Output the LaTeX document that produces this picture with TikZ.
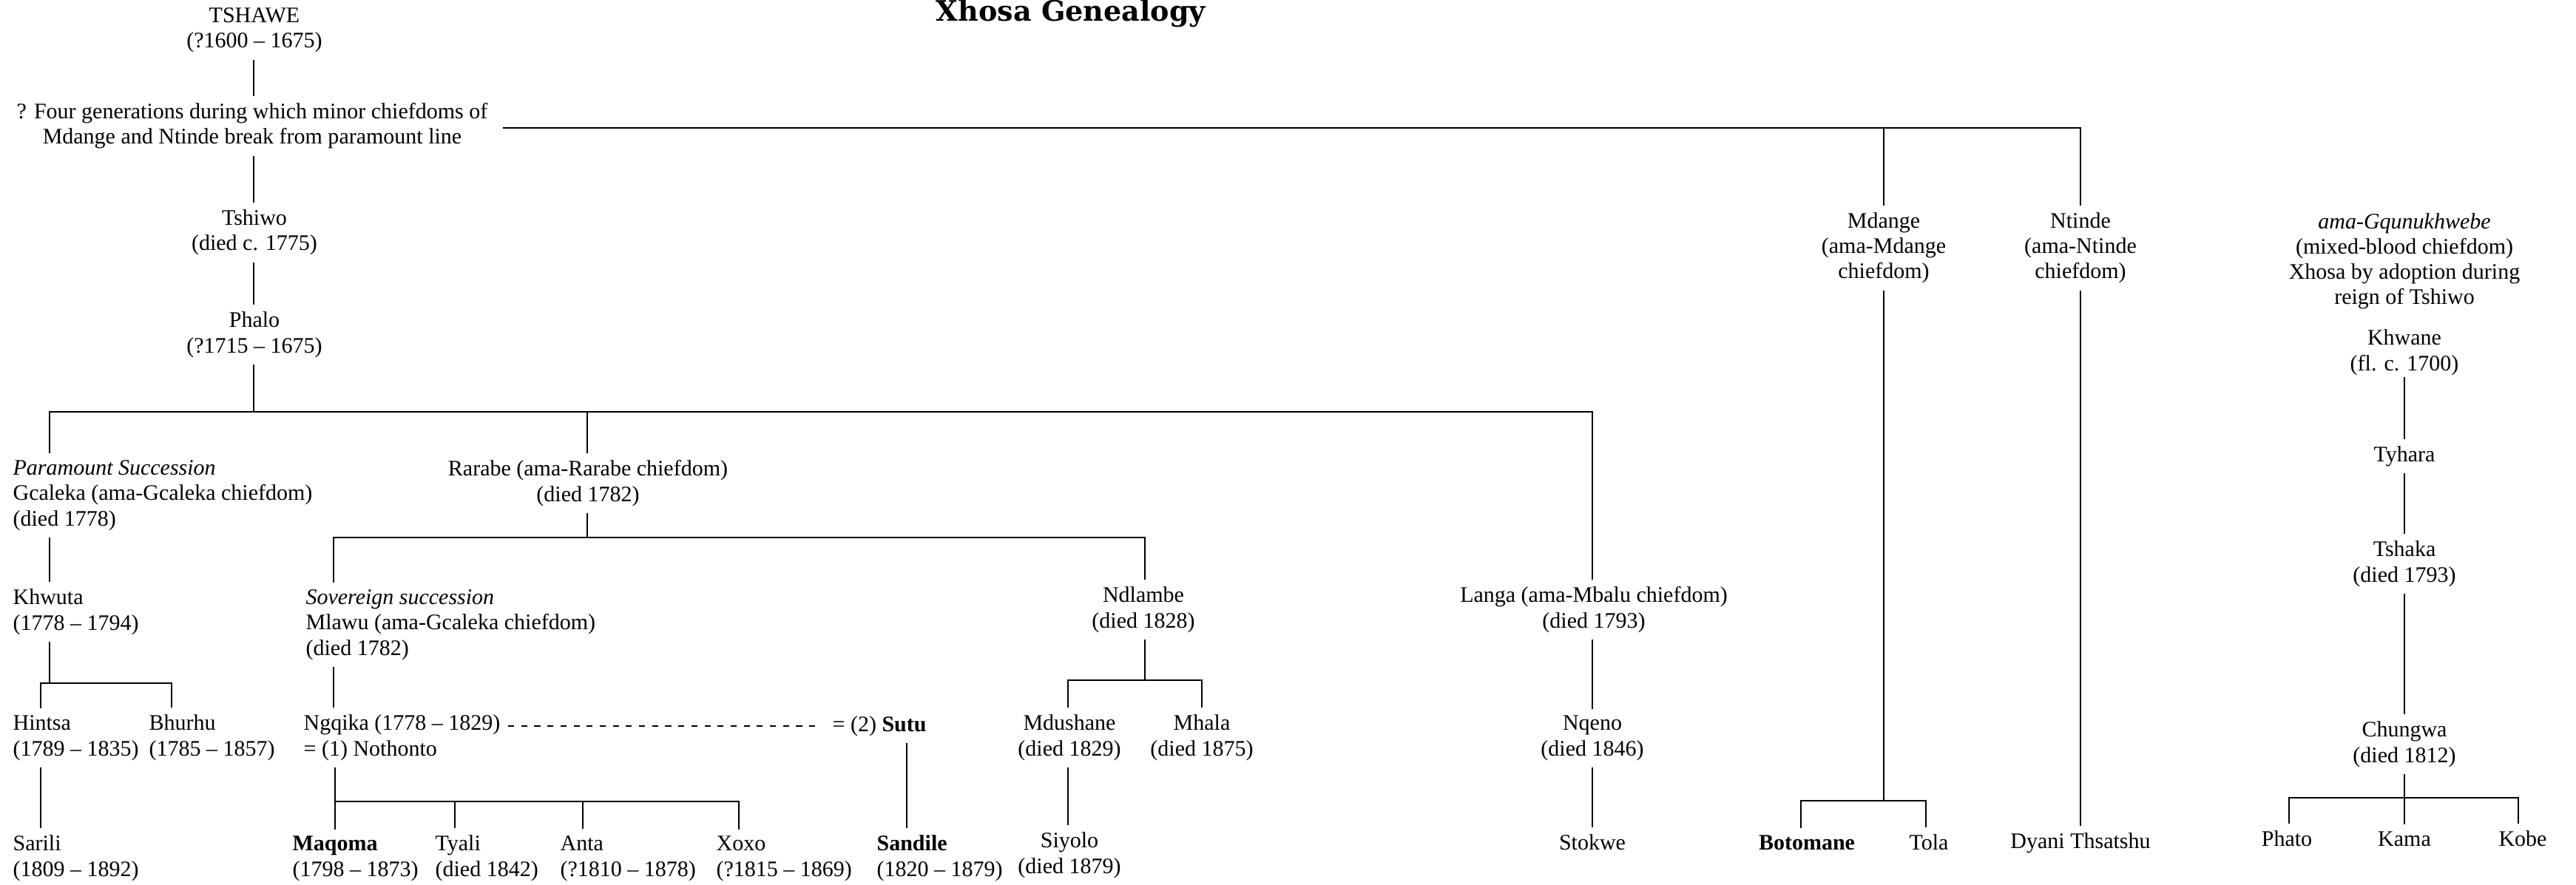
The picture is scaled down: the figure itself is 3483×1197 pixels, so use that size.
\documentclass[tikz,border=0pt]{standalone}
\usepackage{fontspec}
\setmainfont{Liberation Serif}
\newfontfamily\titlefont{DejaVu Serif}
\begin{document}
\begin{tikzpicture}[x=0.33333pt,y=-0.33333pt,
  every node/.style={font=\fontsize{10}{11.4}\selectfont, inner xsep=0pt, inner ysep=3pt},
  c/.style={anchor=base, align=center},
  l/.style={anchor=base west, align=left},
  ln/.style={line width=0.7pt},
  dsh/.style={line width=0.7pt, dash pattern=on 2.7pt off 3.2pt}]
\fill[white] (0,0) rectangle (3483,1197);
\useasboundingbox (0,0) rectangle (3483,1197);

% title
\node[anchor=base, font=\titlefont\bfseries\fontsize{12.7}{14}\selectfont] (title) at (1448,29) {Xhosa Genealogy};

% main line (node positions give the baseline of the last line)
\node[c] (tshawe) at (344,65) {TSHAWE\\(?1600 -- 1675)};
\node[c] (fourgen) at (341,195) {? Four generations during which minor chiefdoms of\\Mdange and Ntinde break from paramount line};
\node[c] (tshiwo) at (344,339) {Tshiwo\\(died c. 1775)};
\node[c] (phalo) at (344,477) {Phalo\\(?1715 -- 1675)};

% Phalo's sons
\node[l] (gcaleka) at (17,711) {\textit{Paramount Succession}\\Gcaleka (ama-Gcaleka chiefdom)\\(died 1778)};
\node[c] (rarabe) at (795,678) {Rarabe (ama-Rarabe chiefdom)\\(died 1782)};
\node[c] (langa) at (2155,849) {Langa (ama-Mbalu chiefdom)\\(died 1793)};

\node[l] (khwuta) at (17,852) {Khwuta\\(1778 -- 1794)};
\node[l] (mlawu) at (413,886) {\textit{Sovereign succession}\\Mlawu (ama-Gcaleka chiefdom)\\(died 1782)};
\node[c] (ndlambe) at (1546,849) {Ndlambe\\(died 1828)};

\node[l] (hintsa) at (17,1022) {Hintsa\\(1789 -- 1835)};
\node[l] (bhurhu) at (201,1022) {Bhurhu\\(1785 -- 1857)};
\node[l] (ngqika) at (410,1022) {Ngqika (1778 -- 1829)\\= (1) Nothonto};
\node[l] (sutu) at (1125,989) {= (2) \textbf{Sutu}};
\node[c] (mdushane) at (1446,1022) {Mdushane\\(died 1829)};
\node[c] (mhala) at (1625,1022) {Mhala\\(died 1875)};
\node[c] (nqeno) at (2153,1022) {Nqeno\\(died 1846)};

\node[l] (sarili) at (17,1185) {Sarili\\(1809 -- 1892)};
\node[l] (maqoma) at (395,1185) {\textbf{Maqoma}\\(1798 -- 1873)};
\node[l] (tyali) at (588,1185) {Tyali\\(died 1842)};
\node[l] (anta) at (757,1185) {Anta\\(?1810 -- 1878)};
\node[l] (xoxo) at (968,1185) {Xoxo\\(?1815 -- 1869)};
\node[l] (sandile) at (1185,1185) {\textbf{Sandile}\\(1820 -- 1879)};
\node[c] (siyolo) at (1446,1181) {Siyolo\\(died 1879)};
\node[c] (stokwe) at (2153,1149) {Stokwe};

% minor chiefdoms
\node[c] (mdange) at (2547,377) {Mdange\\(ama-Mdange\\chiefdom)};
\node[c] (ntinde) at (2813,377) {Ntinde\\(ama-Ntinde\\chiefdom)};
\node[c] (botomane) at (2443,1149) {\textbf{Botomane}};
\node[c] (tola) at (2608,1149) {Tola};
\node[c] (dyani) at (2813,1147) {Dyani Thsatshu};

% Gqunukhwebe
\node[c] (gqun) at (3251,412) {\textit{ama-Gqunukhwebe}\\(mixed-blood chiefdom)\\Xhosa by adoption during\\reign of Tshiwo};
\node[c] (khwane) at (3251,501) {Khwane\\(fl. c. 1700)};
\node[c] (tyhara) at (3251,624) {Tyhara};
\node[c] (tshaka) at (3251,787) {Tshaka\\(died 1793)};
\node[c] (chungwa) at (3251,1031) {Chungwa\\(died 1812)};
\node[c] (phato) at (3092,1144) {Phato};
\node[c] (kama) at (3251,1144) {Kama};
\node[c] (kobe) at (3411,1144) {Kobe};

% connectors: main line
\draw[ln] (343,0 |- tshawe.south) -- (343,0 |- fourgen.north);
\draw[ln] (343,0 |- fourgen.south) -- (343,0 |- tshiwo.north);
\draw[ln] (343,0 |- tshiwo.south) -- (343,0 |- phalo.north);
\coordinate (topL) at (680,173);
\draw[ln] (topL) -- (2813,173) -- (2813,0 |- ntinde.north);
\draw[ln] (2547,173) -- (2547,0 |- mdange.north);

% Phalo's sons
\draw[ln] (343,0 |- phalo.south) -- (343,557);
\draw[ln] (67,0 |- gcaleka.north) -- (67,557) -- (2153,557) -- (2153,0 |- langa.north);
\draw[ln] (794,557) -- (794,0 |- rarabe.north);

% Gcaleka line
\draw[ln] (67,0 |- gcaleka.south) -- (67,0 |- khwuta.north);
\draw[ln] (67,0 |- khwuta.south) -- (67,924);
\draw[ln] (55,0 |- hintsa.north) -- (55,924) -- (232,924) -- (232,0 |- bhurhu.north);
\draw[ln] (55,0 |- hintsa.south) -- (55,0 |- sarili.north);

% Rarabe line
\draw[ln] (794,0 |- rarabe.south) -- (794,727);
\draw[ln] (451,0 |- mlawu.north) -- (451,727) -- (1548,727) -- (1548,0 |- ndlambe.north);
\draw[ln] (451,0 |- mlawu.south) -- (451,0 |- ngqika.north);
\draw[ln] (453,0 |- ngqika.south) -- (453,1084);
\draw[ln] (453,0 |- maqoma.north) -- (453,1084) -- (999,1084) -- (999,0 |- xoxo.north);
\draw[ln] (615,1084) -- (615,0 |- tyali.north);
\draw[ln] (788,1084) -- (788,0 |- anta.north);
\coordinate (dashL) at (687,982);
\coordinate (dashR) at (1110,982);
\draw[dsh] (dashL) -- (dashR);
\draw[ln] (1226,0 |- sutu.south) -- (1226,0 |- sandile.north);

% Ndlambe line
\draw[ln] (1548,0 |- ndlambe.south) -- (1548,920);
\draw[ln] (1444,0 |- mdushane.north) -- (1444,920) -- (1625,920) -- (1625,0 |- mhala.north);
\draw[ln] (1444,0 |- mdushane.south) -- (1444,0 |- siyolo.north);

% Langa line
\draw[ln] (2153,0 |- langa.south) -- (2153,0 |- nqeno.north);
\draw[ln] (2153,0 |- nqeno.south) -- (2153,0 |- stokwe.north);

% Mdange / Ntinde
\draw[ln] (2547,0 |- mdange.south) -- (2547,1083);
\draw[ln] (2435,0 |- botomane.north) -- (2435,1083) -- (2604,1083) -- (2604,0 |- tola.north);
\draw[ln] (2813,0 |- ntinde.south) -- (2813,0 |- dyani.north);

% Gqunukhwebe line
\draw[ln] ([yshift=2.3pt]3251,0 |- khwane.south) -- (3251,0 |- tyhara.north);
\draw[ln] (3251,0 |- tyhara.south) -- (3251,0 |- tshaka.north);
\draw[ln] (3251,0 |- tshaka.south) -- (3251,0 |- chungwa.north);
\draw[ln] (3251,0 |- chungwa.south) -- (3251,0 |- kama.north);
\draw[ln] (3095,0 |- phato.north) -- (3095,1079) -- (3405,1079) -- (3405,0 |- kobe.north);
\end{tikzpicture}
\end{document}
